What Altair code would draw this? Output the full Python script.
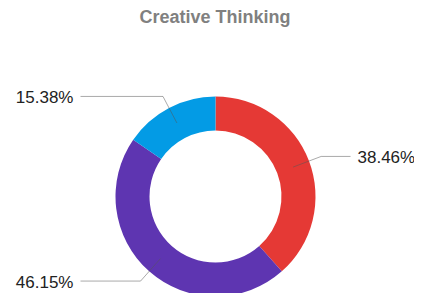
import altair as alt
import numpy as np
import pandas as pd

# Data
labels = ["38.46%", "46.15%", "15.38%"]
values = [38.46, 46.15, 15.38]
colors = ["#E53935", "#5E35B1", "#039BE5"]

total = sum(values)
ends = np.cumsum(values)
starts = ends - np.array(values)

df = pd.DataFrame({
    "label": labels,
    "value": values,
    "start": starts,
    "end": ends,
    "idx": range(len(labels)),
})
df["cx"] = 0.0
df["cy"] = 0.0

# leader-line geometry (layout constants, in pixel units of the x/y scales)
R_IN, R_OUT, X_END, X_TXT = 83, 113, 135, 142
mid = (df["start"] + df["end"]) / 2 / total * 2 * np.pi
sx, cy = np.sin(mid), np.cos(mid)
side = np.where(sx >= 0, 1, -1)

rows = []
for i, lab in enumerate(labels):
    rows.append({"label": lab, "step": 0, "x": R_IN * sx[i], "y": R_IN * cy[i]})
    rows.append({"label": lab, "step": 1, "x": R_OUT * sx[i], "y": R_OUT * cy[i]})
    rows.append({"label": lab, "step": 2, "x": side[i] * X_END, "y": R_OUT * cy[i]})
lines_df = pd.DataFrame(rows)

txt_df = pd.DataFrame({
    "label": labels,
    "x": side * X_TXT,
    "y": R_OUT * cy,
    "side": side,
})

W, H = 406, 253
CX, CY = 207.5, 156.5  # centre of donut in view pixels
xscale = alt.Scale(domain=[-CX, W - CX], nice=False, zero=False)
yscale = alt.Scale(domain=[-(H - CY), CY], nice=False, zero=False)

arcs = alt.Chart(df).mark_arc(outerRadius=100, innerRadius=66).encode(
    theta=alt.Theta("start:Q", scale=alt.Scale(domain=[0, total]), stack=False),
    theta2="end:Q",
    x=alt.X("cx:Q", scale=xscale, axis=None),
    y=alt.Y("cy:Q", scale=yscale, axis=None),
    color=alt.Color("label:N", scale=alt.Scale(domain=labels, range=colors), legend=None),
    order=alt.Order("idx:Q"),
)

lines = alt.Chart(lines_df).mark_line(color="#555555", opacity=0.5, strokeWidth=1).encode(
    x=alt.X("x:Q", scale=xscale, axis=None),
    y=alt.Y("y:Q", scale=yscale, axis=None),
    detail="label:N",
    order="step:Q",
)

txt_common = dict(font="Liberation Sans", fontSize=17, color="#222222", baseline="middle", dy=2)
txt_right = alt.Chart(txt_df).transform_filter("datum.side > 0").mark_text(align="left", **txt_common).encode(
    x=alt.X("x:Q", scale=xscale, axis=None),
    y=alt.Y("y:Q", scale=yscale, axis=None),
    text="label:N",
)
txt_left = alt.Chart(txt_df).transform_filter("datum.side < 0").mark_text(align="right", **txt_common).encode(
    x=alt.X("x:Q", scale=xscale, axis=None),
    y=alt.Y("y:Q", scale=yscale, axis=None),
    text="label:N",
)

chart = alt.layer(arcs, lines, txt_right, txt_left).properties(
    width=W,
    height=H,
    padding={"left": 0, "top": 32, "right": 0, "bottom": 0},
    autosize="none",
    title=alt.TitleParams(
        text="Creative Thinking",
        font="Liberation Sans",
        fontSize=18,
        fontWeight="bold",
        color="#808080",
        anchor="middle",
        offset=13,
        dx=4,
    ),
).configure_view(stroke=None)

chart.save("out.html", embed_options={"renderer": "svg", "actions": False})
